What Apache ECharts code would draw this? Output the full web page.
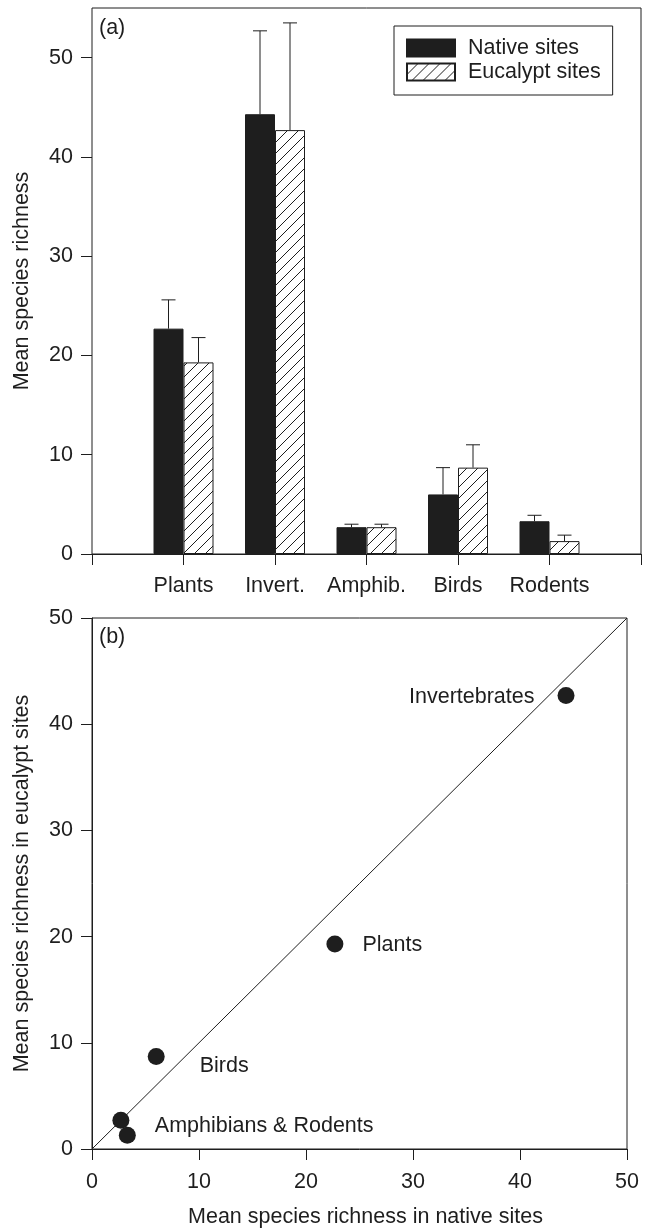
<!DOCTYPE html>
<html>
<head>
<meta charset="utf-8">
<script src="https://cdn.jsdelivr.net/npm/echarts@6/dist/echarts.min.js"></script>
<style>
  html, body { margin: 0; padding: 0; background: #fff; }
  #chart { width: 650px; height: 1229px; }
</style>
</head>
<body>
<div id="chart"></div>
<script>
// values
const categories = ['Plants', 'Invert.', 'Amphib.', 'Birds', 'Rodents'];
const nativeMean = [22.7, 44.3, 2.7, 6.0, 3.3];
const nativeUpper = [25.6, 52.7, 3.0, 8.7, 3.9];
const eucMean = [19.3, 42.7, 2.7, 8.7, 1.3];
const eucUpper = [21.8, 53.5, 3.0, 11.0, 1.9];
const pointNames = ['Plants', 'Invertebrates', 'Amphibians', 'Birds', 'Rodents'];
const pointLabels = ['Plants', 'Invertebrates', '', 'Birds', 'Amphibians & Rodents'];
const topTicks = [0, 10, 20, 30, 40, 50];
const bottomTicks = [0, 10, 20, 30, 40, 50];

const ink = '#1e1e1e';
const font = 'Liberation Sans, Arial, sans-serif';
const fs = 21.5;

// hatch for eucalypt bars
function makeHatch() {
  const c = document.createElement('canvas');
  const s = 11;
  c.width = s; c.height = s;
  const g = c.getContext('2d');
  g.fillStyle = '#fff';
  g.fillRect(0, 0, s, s);
  g.strokeStyle = ink;
  g.lineWidth = 1;
  g.beginPath();
  g.moveTo(0, s); g.lineTo(s, 0);
  g.moveTo(-1, 1); g.lineTo(1, -1);
  g.moveTo(s - 1, s + 1); g.lineTo(s + 1, s - 1);
  g.stroke();
  return c;
}
const hatch = { image: makeHatch(), repeat: 'repeat' };

// padded category list so the frame edges carry ticks too
const xCats = [''].concat(categories, ['']);
const pad = arr => ['-'].concat(arr, ['-']);

const labelPlace = {
  Plants: { position: 'right', distance: 19, offset: [0, 1] },
  Invertebrates: { position: 'left', distance: 23, offset: [0, 2] },
  Birds: { position: 'right', distance: 35, offset: [0, 9] },
  Rodents: { position: 'right', distance: 19, offset: [0, -9] },
  Amphibians: { position: 'right', distance: 0, offset: [0, 0] }
};

function errBar(shift) {
  return function (params, api) {
    const p0 = api.coord([api.value(0), api.value(1)]);
    const p1 = api.coord([api.value(0), api.value(2)]);
    const x = p0[0] + shift;
    const st = { stroke: ink, lineWidth: 1 };
    return {
      type: 'group',
      children: [
        { type: 'line', shape: { x1: x, y1: p0[1], x2: x, y2: p1[1] }, style: st },
        { type: 'line', shape: { x1: x - 7, y1: p1[1], x2: x + 7, y2: p1[1] }, style: st }
      ]
    };
  };
}

const axisLineStyle = { lineStyle: { color: ink, width: 1 } };
const tickStyle = { show: true, length: 11, lineStyle: { color: ink, width: 1 } };
const labelStyle = { color: ink, fontSize: fs, fontFamily: font };

const chart = echarts.init(document.getElementById('chart'), null, { renderer: 'canvas' });
chart.setOption({
  backgroundColor: '#fff',
  animation: false,
  textStyle: { fontFamily: font, color: ink },
  grid: [
    { left: 92, right: 9, top: 8, bottom: 675, show: true, borderColor: ink, borderWidth: 1, backgroundColor: 'transparent' },
    { left: 92, right: 23, top: 618, bottom: 79, show: true, borderColor: ink, borderWidth: 1, backgroundColor: 'transparent' }
  ],
  legend: {
    data: ['Native sites', 'Eucalypt sites'],
    orient: 'vertical',
    left: 394,
    top: 26,
    padding: [11, 12, 12, 12],
    borderColor: ink,
    borderWidth: 1,
    itemWidth: 48,
    itemHeight: 17,
    itemGap: 2,
    selectedMode: false,
    icon: 'rect',
    textStyle: { fontSize: fs, fontFamily: font, color: ink, padding: [0, 0, 0, 8], lineHeight: 21 }
  },
  graphic: [
    { type: 'text', left: 99, top: 17, style: { text: '(a)', fontSize: fs, fontFamily: font, fill: ink } },
    { type: 'text', left: 99, top: 626, style: { text: '(b)', fontSize: fs, fontFamily: font, fill: ink } }
  ],
  xAxis: [
    {
      gridIndex: 0,
      type: 'category',
      data: xCats,
      boundaryGap: false,
      axisLine: axisLineStyle,
      axisTick: Object.assign({ interval: 0 }, tickStyle),
      axisLabel: Object.assign({ interval: 0, margin: 21 }, labelStyle),
      splitLine: { show: false }
    },
    {
      gridIndex: 1,
      type: 'value',
      min: 0, max: 50, interval: 10,
      name: 'Mean species richness in native sites',
      nameLocation: 'middle',
      nameGap: 57,
      nameTextStyle: Object.assign({ padding: [0, 0, 0, 12] }, labelStyle),
      axisLine: axisLineStyle,
      axisTick: tickStyle,
      axisLabel: Object.assign({ margin: 22, customValues: bottomTicks }, labelStyle),
      splitLine: { show: false }
    }
  ],
  yAxis: [
    {
      gridIndex: 0,
      type: 'value',
      min: 0, max: 55,
      name: 'Mean species richness',
      nameLocation: 'middle',
      nameGap: 59,
      nameTextStyle: labelStyle,
      axisLine: axisLineStyle,
      axisTick: Object.assign({ customValues: topTicks }, tickStyle),
      axisLabel: Object.assign({ margin: 19, customValues: topTicks }, labelStyle),
      splitLine: { show: false }
    },
    {
      gridIndex: 1,
      type: 'value',
      min: 0, max: 50, interval: 10,
      name: 'Mean species richness in eucalypt sites',
      nameLocation: 'middle',
      nameGap: 59,
      nameTextStyle: labelStyle,
      axisLine: axisLineStyle,
      axisTick: tickStyle,
      axisLabel: Object.assign({ margin: 19, customValues: bottomTicks }, labelStyle),
      splitLine: { show: false }
    }
  ],
  series: [
    {
      name: 'Native sites',
      type: 'bar',
      xAxisIndex: 0, yAxisIndex: 0,
      data: pad(nativeMean),
      barWidth: 30,
      barGap: '0%',
      itemStyle: { color: ink, borderColor: ink, borderWidth: 1 },
      z: 2
    },
    {
      name: 'Eucalypt sites',
      type: 'bar',
      xAxisIndex: 0, yAxisIndex: 0,
      data: pad(eucMean),
      barWidth: 30,
      barGap: '0%',
      itemStyle: { color: hatch, borderColor: ink, borderWidth: 1 },
      z: 2
    },
    {
      type: 'custom',
      xAxisIndex: 0, yAxisIndex: 0,
      data: categories.map((c, i) => [i + 1, nativeMean[i], nativeUpper[i]]),
      renderItem: errBar(-15),
      z: 3,
      silent: true
    },
    {
      type: 'custom',
      xAxisIndex: 0, yAxisIndex: 0,
      data: categories.map((c, i) => [i + 1, eucMean[i], eucUpper[i]]),
      renderItem: errBar(15),
      z: 3,
      silent: true
    },
    {
      // 1:1 line
      type: 'line',
      xAxisIndex: 1, yAxisIndex: 1,
      data: [[bottomTicks[0], bottomTicks[0]], [bottomTicks[bottomTicks.length - 1], bottomTicks[bottomTicks.length - 1]]],
      showSymbol: false,
      lineStyle: { color: ink, width: 1 },
      silent: true,
      z: 2
    },
    {
      type: 'scatter',
      xAxisIndex: 1, yAxisIndex: 1,
      symbol: 'circle',
      symbolSize: 17,
      itemStyle: { color: ink, opacity: 1 },
      z: 3,
      data: pointNames.map((n, i) => ({
        name: n,
        value: [nativeMean[i], eucMean[i]],
        label: Object.assign({
          show: pointLabels[i] !== '',
          formatter: pointLabels[i],
          fontSize: fs,
          fontFamily: font,
          color: ink
        }, labelPlace[n])
      }))
    }
  ]
});
</script>
</body>
</html>
